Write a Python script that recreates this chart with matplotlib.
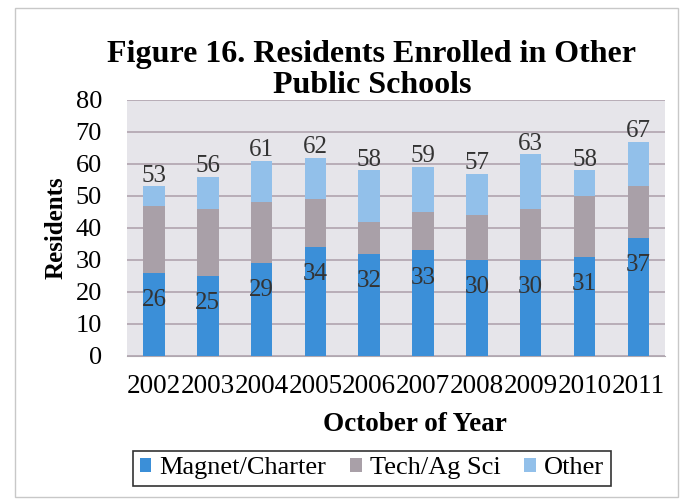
import numpy as np
import matplotlib.pyplot as plt
from matplotlib.patches import Rectangle

years = ["2002", "2003", "2004", "2005", "2006", "2007", "2008", "2009", "2010", "2011"]
magnet = [26, 25, 29, 34, 32, 33, 30, 30, 31, 37]
tech = [21, 21, 19, 15, 10, 12, 14, 16, 19, 16]
totals = [53, 56, 61, 62, 58, 59, 57, 63, 58, 67]
other = [t - m - g for t, m, g in zip(totals, magnet, tech)]

plt.rcParams['font.family'] = ['Liberation Serif', 'DejaVu Serif']

c_mag = '#3b8fd8'
c_tech = '#a9a0a8'
c_oth = '#92c0ea'

fig = plt.figure(figsize=(6.83, 5), dpi=100)
# light frame around the whole chart
fig.patches.append(Rectangle((0.022, 0.006), 0.971, 0.978, transform=fig.transFigure,
                             fill=False, edgecolor='#c8c8c8', lw=1))
ax = fig.add_axes([0.186, 0.288, 0.788, 0.512])
ax.set_facecolor('#e6e5ea')

x = np.arange(len(years))
w = 0.4
ax.bar(x, magnet, w, color=c_mag, label="Magnet/Charter", zorder=3)
ax.bar(x, tech, w, bottom=magnet, color=c_tech, label="Tech/Ag Sci", zorder=3)
bot2 = [m + g for m, g in zip(magnet, tech)]
ax.bar(x, other, w, bottom=bot2, color=c_oth, label="Other", zorder=3)

for i in range(len(years)):
    ax.text(x[i], magnet[i] - 8.5, str(magnet[i]), ha='center', va='center',
            fontsize=18, color='#333333', zorder=4)
    ax.text(x[i], totals[i] + 3.4, str(totals[i]), ha='center', va='center',
            fontsize=18, color='#333333', zorder=4)

ax.set_ylim(0, 80)
ax.set_xlim(-0.5, len(years) - 0.5)
ax.set_yticks(range(0, 81, 10))
ax.yaxis.grid(True, color='#b0a4ae', lw=1.2, zorder=0)
ax.set_xticks(x)
ax.set_xticklabels(years, fontsize=19.5)
ax.tick_params(axis='y', labelsize=19, length=0, pad=18)
ax.tick_params(axis='x', length=0, pad=13)
for s in ax.spines.values():
    s.set_visible(False)
ax.spines['bottom'].set_visible(True)
ax.spines['bottom'].set_color('#b0a8b0')

ax.set_title("Figure 16. Residents Enrolled in Other\nPublic Schools", fontsize=23,
             fontweight='bold', linespacing=1.1, pad=3, x=0.455)
ax.set_ylabel("Residents", fontsize=18, fontweight='bold', labelpad=6)
ax.set_xlabel("October of Year", fontsize=19.5, fontweight='bold', labelpad=9, x=0.535)

leg = ax.legend(loc='upper center', bbox_to_anchor=(0.455, -0.37), ncol=3,
                frameon=True, fancybox=False, edgecolor='black', handlelength=0.45,
                handleheight=0.45, handletextpad=0.3, columnspacing=0.9,
                borderpad=0.25, borderaxespad=0, prop={'size': 19})
leg.get_frame().set_linewidth(1.2)

fig.savefig("out.png", dpi=100)
